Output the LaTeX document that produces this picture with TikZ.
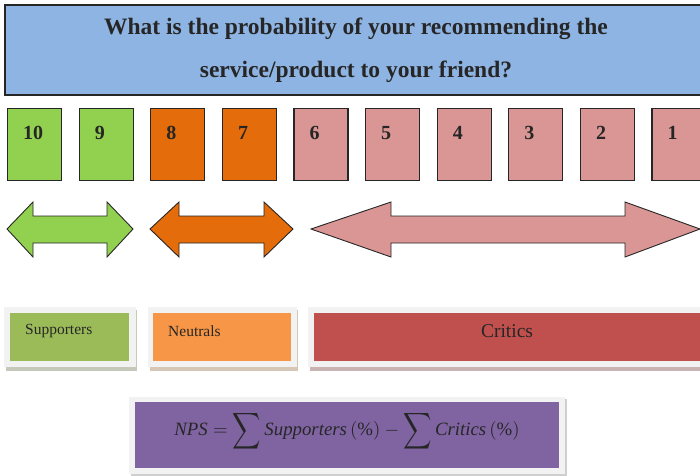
\documentclass[tikz,border=0pt]{standalone}
\usepackage{fontspec}
\setmainfont{Liberation Serif}
\usepackage{graphicx}
\usetikzlibrary{calc}
\definecolor{qblue}{HTML}{8EB4E3}
\definecolor{sgreen}{HTML}{92D050}
\definecolor{sorange}{HTML}{E46C0A}
\definecolor{spink}{HTML}{D99694}
\definecolor{cgreen}{HTML}{9BBB59}
\definecolor{corange}{HTML}{F79646}
\definecolor{cred}{HTML}{C0504D}
\definecolor{cpurple}{HTML}{8064A2}
\definecolor{frame}{HTML}{F2F2F2}
\definecolor{edge}{HTML}{262626}
\definecolor{shgreen}{HTML}{C5C9B9}
\definecolor{shorange}{HTML}{D6C6B6}
\definecolor{shred}{HTML}{C9B3B3}
\definecolor{shgray}{HTML}{CFCFCF}
% tall summation sign for the score formula
\newcommand{\tallsum}{\mathop{\vcenter{\hbox{\scalebox{1.05}[1.35]{$\displaystyle\sum$}}}}}
\tikzset{
  qbox/.style={draw=edge, line width=1.3pt, fill=qblue},
  numbox/.style={draw=edge, line width=1.1pt, minimum width=54pt, minimum height=72pt, inner sep=0pt},
  numtxt/.style={anchor=base west, inner sep=0pt, font=\fontsize{20}{20}\selectfont\bfseries, text=edge},
  dblarrow/.style={draw=edge, line width=0.9pt, line join=miter},
  framebox/.style={fill=frame, inner sep=0pt},
  catbox/.style={inner sep=0pt},
  cattxt/.style={inner sep=0pt, text=edge},
}
% double-headed block arrow: #1 left tip x, #2 end of left head, #3 start of right head, #4 right tip x
\newcommand{\blockarrow}[5]{%
  \draw[dblarrow, fill=#5] (#1,229) -- (#2,202) -- (#2,216) -- (#3,216) -- (#3,202) -- (#4,229)
    -- (#3,257) -- (#3,243) -- (#2,243) -- (#2,257) -- cycle;}
\begin{document}
\begin{tikzpicture}[x=1pt,y=-1pt]
\useasboundingbox (0,0) rectangle (700,475);

% question banner
\draw[qbox] (5,5) rectangle (712,95);
\node[font=\fontsize{23.5}{43}\selectfont\bfseries, text=edge, align=center, inner sep=0pt] (q) at (356,50)
  {What is the probability of your recommending the\\service/product to your friend?};

% score boxes 10 .. 1
\foreach \s/\c [count=\i from 0] in {10/sgreen,9/sgreen,8/sorange,7/sorange,6/spink,5/spink,4/spink,3/spink,2/spink,1/spink}{
  \pgfmathsetmacro{\xl}{7+71.6*\i}
  \node[numbox, fill=\c, anchor=north west] (n\s) at (\xl,108) {};
  \node[numtxt] (t\s) at ($(n\s.north west)+(16,31)$) {\s};
}

% group arrows
\blockarrow{7}{33}{107}{133}{sgreen}
\blockarrow{150}{179}{264}{293}{sorange}
\blockarrow{311}{391}{625}{700}{spink}

% category boxes with shadow and frame
\fill[shgreen] (6,310) rectangle (137,371);
\node[framebox, minimum width=132pt, minimum height=60pt, anchor=north west] (fs) at (4,307) {};
\node[catbox, fill=cgreen, minimum width=119pt, minimum height=48pt, anchor=north west] (sup) at (10,313) {};
\node[cattxt, anchor=west, font=\fontsize{15.5}{16}\selectfont] (lsup) at (25,331) {Supporters};

\fill[shorange] (150,310) rectangle (298,371);
\node[framebox, minimum width=149pt, minimum height=60pt, anchor=north west] (fn) at (148,307) {};
\node[catbox, fill=corange, minimum width=138pt, minimum height=48pt, anchor=north west] (neu) at (153,313) {};
\node[cattxt, anchor=west, font=\fontsize{15.5}{16}\selectfont] (lneu) at (168,331) {Neutrals};

\fill[shred] (310,310) rectangle (712,371);
\node[framebox, minimum width=400pt, minimum height=60pt, anchor=north west] (fc) at (308,307) {};
\node[catbox, fill=cred, minimum width=400pt, minimum height=48pt, anchor=north west] (cri) at (314,313) {};
\node[cattxt, font=\fontsize{19.5}{20}\selectfont] (lcri) at (507,331) {Critics};

% net promoter score formula
\fill[shgray] (131,399) rectangle (567,476);
\node[framebox, minimum width=436pt, minimum height=77pt, anchor=north west] (fnps) at (129,397) {};
\node[catbox, fill=cpurple, minimum width=424pt, minimum height=66pt, anchor=north west] (nps) at (135,402) {};
\node[cattxt] (lnps) at (347,431)
  {\scalebox{1.88}{$\displaystyle \mathit{NPS} = \tallsum \mathit{Supporters}\,(\%) - \tallsum \mathit{Critics}\,(\%)$}};
\end{tikzpicture}
\end{document}
